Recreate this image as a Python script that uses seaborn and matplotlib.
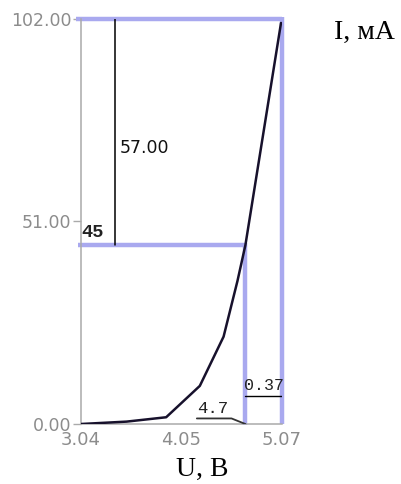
import matplotlib
matplotlib.use("Agg")
import matplotlib.pyplot as plt
import seaborn as sns
import pandas as pd

# Current-voltage characteristic
voltage = [3.04, 3.50, 3.90, 4.24, 4.48, 4.62, 4.70, 5.06]
current = [0.0, 0.6, 1.7, 9.6, 22.0, 36.0, 45.0, 101.0]

x_ticks = [3.04, 4.05, 5.07]
y_ticks = [0.0, 51.0, 102.0]
x_tick_labels = ["3.04", "4.05", "5.07"]
y_tick_labels = ["0.00", "51.00", "102.00"]

u_max, i_max = 5.07, 102.0
u_work, i_work = 4.7, 45.0
u_marker = 3.38
i_dim = 7.0

sns.set_style("white")
plt.rcParams["font.family"] = ["DejaVu Sans"]

fig = plt.figure(figsize=(4.02, 4.84), dpi=100)
fig.patch.set_facecolor("white")
ax = fig.add_axes([81 / 402, 1 - 424 / 484, 201 / 402, 405 / 484])

df = pd.DataFrame({"U": voltage, "I": current})

blue = "#a9a9ef"
ax.plot([3.04 - 0.05, u_max], [i_max, i_max], color=blue, lw=3.2, clip_on=False,
        solid_capstyle="butt", zorder=2)
ax.plot([u_max, u_max], [0, i_max + 0.5], color=blue, lw=3.2, clip_on=False,
        solid_capstyle="butt", zorder=2)
ax.plot([3.04 - 0.03, u_work], [i_work, i_work], color=blue, lw=3.2, clip_on=False,
        solid_capstyle="butt", zorder=2)
ax.plot([u_work, u_work], [-0.3, i_work + 0.5], color=blue, lw=3.2, clip_on=False,
        solid_capstyle="butt", zorder=2)

sns.lineplot(data=df, x="U", y="I", ax=ax, color="#17112c", lw=1.8,
             sort=False, estimator=None, zorder=4)

# dimension marker for 102 - 45
ax.plot([u_marker, u_marker], [i_work, i_max], color="black", lw=1.1, zorder=3)
ax.text(u_marker + 0.055, 69.5, "57.00", fontsize=12.5, color="#111111",
        ha="left", va="center")

ax.text(3.045, i_work + 1.0, "45", fontsize=13.5, family="Liberation Mono",
        weight="bold", color="#222222", ha="left", va="bottom")

# span from working point to the limit
ax.plot([u_work, u_max], [i_dim, i_dim], color="black", lw=1.0, zorder=3)
ax.text((u_work + u_max) / 2, i_dim + 0.9, "0.37", fontsize=12,
        family="Liberation Mono", color="#222222", ha="center", va="bottom")

# leader for the working voltage
ax.plot([4.21, 4.56, u_work], [1.4, 1.4, 0.0], color="#333333", lw=1.3, zorder=3)
ax.text(4.375, 2.0, "4.7", fontsize=12.5, family="Liberation Mono",
        color="#222222", ha="center", va="bottom")

ax.set_xlim(3.04, u_max)
ax.set_ylim(0, i_max)
ax.set_xticks(x_ticks)
ax.set_xticklabels(x_tick_labels)
ax.set_yticks(y_ticks)
ax.set_yticklabels(y_tick_labels)
ax.set_xlabel("")
ax.set_ylabel("")

for side in ("top", "right"):
    ax.spines[side].set_visible(False)
for side in ("left", "bottom"):
    ax.spines[side].set_color("#aaaaaa")
    ax.spines[side].set_linewidth(1.1)

ax.tick_params(axis="x", length=0, pad=5, labelsize=13, labelcolor="#8c8c8c")
ax.tick_params(axis="y", left=True, length=6, width=1, color="#aaaaaa", pad=1,
               labelsize=12.5, labelcolor="#8c8c8c")

fig.text(364 / 402, 1 - 32 / 484, "I, мА", fontsize=20, family="Liberation Serif",
         color="black", ha="center", va="center")
fig.text(202 / 402, 1 - 469 / 484, "U, В", fontsize=20, family="Liberation Serif",
         color="black", ha="center", va="center")

fig.savefig("out.png", dpi=100, facecolor="white")
